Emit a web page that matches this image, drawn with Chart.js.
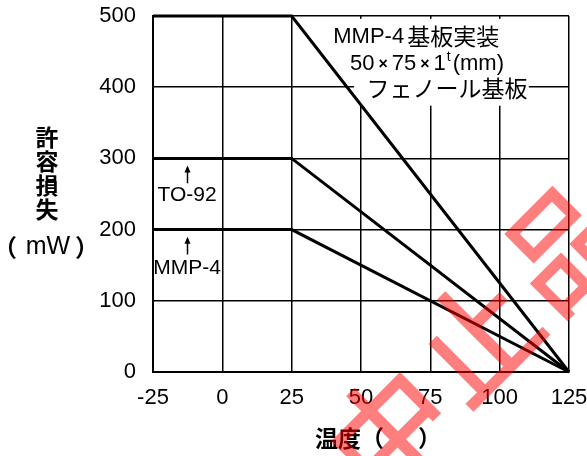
<!DOCTYPE html>
<html>
<head>
<meta charset="utf-8">
<script src="https://cdn.jsdelivr.net/npm/chart.js@4/dist/chart.umd.min.js"></script>
<style>
  html, body { margin: 0; padding: 0; background: #fff; }
  #wrap { width: 587px; height: 456px; position: relative; }
</style>
</head>
<body>
<div id="wrap"><canvas id="c" width="587" height="456"></canvas></div>
<script>
// Ambient temperature (°C) at the break points of each derating curve
const temps = [-25, 25, 125];
// Allowable power dissipation (mW)
const boardMounted = [500, 500, 0];   // MMP-4 on 50x75x1t phenolic board
const to92 = [300, 300, 0];
const mmp4 = [200, 200, 0];

const xTicks = [-25, 0, 25, 50, 75, 100, 125];
const yTicks = [0, 100, 200, 300, 400, 500];

const LAT = '"Liberation Sans", Arial, sans-serif';
const JP = '"Noto Sans CJK JP", sans-serif';

function pts(ys) { return temps.map((t, i) => ({ x: t, y: ys[i] })); }

const lineStyle = { borderColor: '#000', borderWidth: 3, pointRadius: 0, fill: false, tension: 0, clip: false };

const decorations = {
  id: 'decorations',
  // white panel behind the board description, over the grid but under the curves
  beforeDatasetsDraw(chart) {
    const ctx = chart.ctx;
    const xs = chart.scales.x, ys = chart.scales.y;
    const l = xs.getPixelForValue(47.5), r = xs.getPixelForValue(110.5);
    const t = ys.getPixelForValue(496), b = ys.getPixelForValue(374);
    ctx.save();
    ctx.fillStyle = '#fff';
    ctx.fillRect(l, t, r - l, b - t);
    ctx.restore();
  },
  afterDraw(chart) {
    const ctx = chart.ctx;
    const xs = chart.scales.x, ys = chart.scales.y;
    const X = v => xs.getPixelForValue(v), Y = v => ys.getPixelForValue(v);
    ctx.save();
    ctx.fillStyle = '#000';
    ctx.strokeStyle = '#000';

    // board description
    ctx.textBaseline = 'middle';
    ctx.textAlign = 'left';
    ctx.font = '22px ' + LAT;
    let x1 = X(40);
    const y1 = Y(471);
    ctx.fillText('MMP-4', x1, y1);
    x1 += ctx.measureText('MMP-4').width + 3;
    ctx.font = '23px ' + JP;
    ctx.fillText('基板実装', x1, y1);

    let x2 = X(46);
    const y2 = Y(433);
    ctx.font = '22px ' + LAT;
    ctx.fillText('50', x2, y2); x2 += ctx.measureText('50').width + 4;
    ctx.font = 'bold 16px ' + LAT;
    ctx.fillText('×', x2, y2 + 1); x2 += ctx.measureText('×').width + 4;
    ctx.font = '22px ' + LAT;
    ctx.fillText('75', x2, y2); x2 += ctx.measureText('75').width + 4;
    ctx.font = 'bold 16px ' + LAT;
    ctx.fillText('×', x2, y2 + 1); x2 += ctx.measureText('×').width + 4;
    ctx.font = '22px ' + LAT;
    ctx.fillText('1', x2, y2); x2 += ctx.measureText('1').width + 1;
    ctx.font = '14px ' + LAT;
    ctx.fillText('t', x2, y2 - 7); x2 += ctx.measureText('t').width + 2;
    ctx.font = '22px ' + LAT;
    ctx.fillText('(mm)', x2, y2);

    ctx.font = '23px ' + JP;
    ctx.fillText('フェノール基板', X(52), Y(400) + 1);

    // curve labels with arrows
    function label(txt, cx, yTxt, yTop, yBot) {
      ctx.font = '21px ' + LAT;
      ctx.textAlign = 'center';
      ctx.fillText(txt, X(cx), Y(yTxt));
      const ax = Math.round(X(cx)) + 0.5;
      const t = Y(yTop), b = Y(yBot);
      ctx.lineWidth = 1.5;
      ctx.beginPath(); ctx.moveTo(ax, t + 2); ctx.lineTo(ax, b); ctx.stroke();
      ctx.beginPath(); ctx.moveTo(ax, t); ctx.lineTo(ax - 3, t + 7); ctx.lineTo(ax + 3, t + 7); ctx.closePath(); ctx.fill();
    }
    label('TO-92', -12.7, 248, 290, 265);
    label('MMP-4', -12.7, 146, 190, 165);

    // axis titles
    ctx.font = 'bold 23px ' + JP;
    ctx.textAlign = 'center';
    ctx.textBaseline = 'middle';
    const vt = ['許', '容', '損', '失'];
    vt.forEach((ch, i) => ctx.fillText(ch, 47, 137 + i * 24));
    ctx.font = 'bold 24px ' + JP;
    ctx.fillText('（', 5, 247);
    ctx.fillText('）', 87, 247);
    ctx.font = '25px ' + LAT;
    ctx.fillText('mW', 48, 247);

    ctx.font = 'bold 23px ' + JP;
    ctx.textAlign = 'left';
    ctx.fillText('温度（', 315, 438);
    ctx.fillText('）', 418, 438);

    // discontinued stamp
    ctx.fillStyle = 'rgba(255, 0, 0, 0.5)';
    ctx.font = '500 120px ' + JP;
    ctx.textAlign = 'center';
    ctx.textBaseline = 'middle';
    const stamp = ['中', '止', '品'];
    const pos = [[390, 431], [477, 338], [564, 246]];
    stamp.forEach((ch, i) => {
      ctx.save();
      ctx.translate(pos[i][0], pos[i][1]);
      ctx.rotate(-Math.PI / 4);
      ctx.fillText(ch, 0, 0);
      ctx.restore();
    });
    ctx.restore();
  }
};

new Chart(document.getElementById('c'), {
  type: 'line',
  data: {
    datasets: [
      Object.assign({ label: 'MMP-4 board', data: pts(boardMounted) }, lineStyle),
      Object.assign({ label: 'TO-92', data: pts(to92) }, lineStyle),
      Object.assign({ label: 'MMP-4', data: pts(mmp4) }, lineStyle)
    ]
  },
  options: {
    responsive: false,
    animation: false,
    events: [],
    layout: { padding: { left: 0, right: 18, top: 16, bottom: 0 } },
    plugins: { legend: { display: false }, tooltip: { enabled: false } },
    scales: {
      x: {
        type: 'linear', min: -25, max: 125,
        afterBuildTicks: s => { s.ticks = xTicks.map(v => ({ value: v })); },
        afterFit: s => { s.height = 456 - 372; s.paddingLeft = 0; s.paddingRight = 0; },
        grid: { color: '#000', lineWidth: 1.5, drawTicks: false },
        border: { color: '#000', width: 2 },
        ticks: { color: '#000', font: { family: 'Liberation Sans', size: 22 }, padding: 13, maxRotation: 0 }
      },
      y: {
        type: 'linear', min: 0, max: 500,
        afterBuildTicks: s => { s.ticks = yTicks.map(v => ({ value: v })); },
        afterFit: s => { s.width = 153; s.paddingTop = 0; s.paddingBottom = 0; },
        grid: { color: '#000', lineWidth: 1.5, drawTicks: false },
        border: { color: '#000', width: 2 },
        ticks: { color: '#000', font: { family: 'Liberation Sans', size: 22 }, padding: 17 }
      }
    }
  },
  plugins: [decorations]
});
</script>
</body>
</html>
